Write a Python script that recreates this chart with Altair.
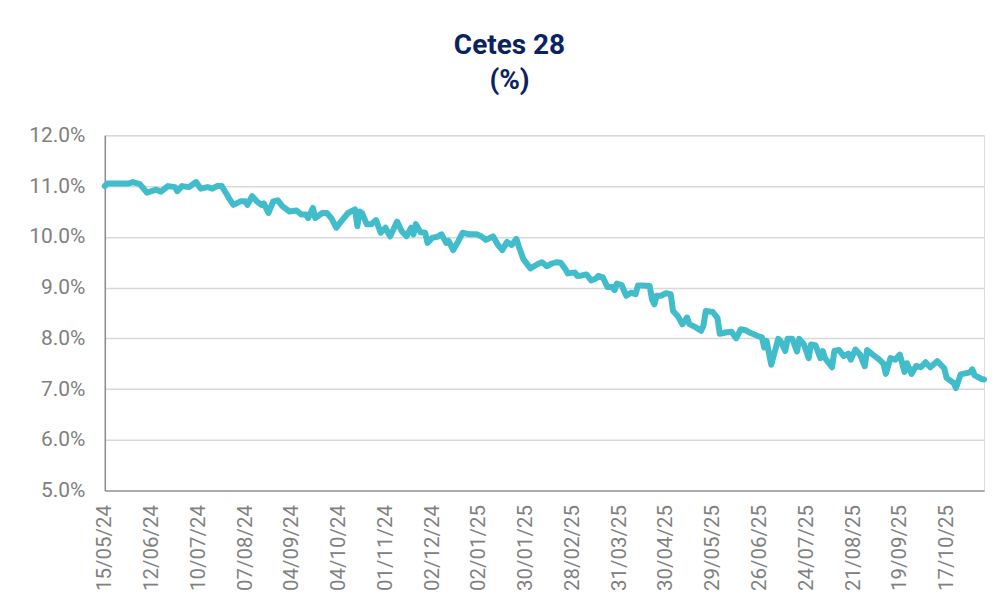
import json
import altair as alt
import pandas as pd

# --- data ---
IDX = [0, 1, 6, 10, 12, 15, 18, 22, 24, 27, 30, 31, 33, 36, 39, 41, 44, 46, 48, 50,
       52, 53, 55, 58, 60, 61, 63, 65, 67, 68, 70, 72, 74, 76, 79, 82, 84, 86, 87, 89,
       90, 93, 95, 97, 99, 101, 104, 107, 108, 109, 110, 112, 114, 116, 118, 120, 122, 125, 127, 129,
       131, 132, 133, 135, 137, 138, 140, 142, 144, 146, 147, 149, 151, 153, 156, 159, 161, 163, 166, 168,
       170, 172, 174, 176, 177, 179, 182, 185, 187, 189, 191, 193, 195, 197, 198, 201, 202, 204, 206, 208,
       210, 211, 213, 215, 217, 218, 219, 221, 223, 225, 227, 228, 230, 233, 234, 235, 236, 238, 240, 242,
       243, 245, 247, 249, 250, 253, 255, 256, 257, 260, 262, 263, 266, 268, 270, 272, 274, 276, 279, 281,
       282, 283, 285, 287, 288, 289, 291, 292, 294, 296, 297, 299, 301, 302, 304, 306, 307, 308, 311, 312,
       314, 316, 318, 319, 321, 323, 325, 326, 329, 331, 333, 334, 336, 338, 340, 342, 343, 345, 347, 349,
       351, 353, 356, 359, 360, 363, 364, 366, 368, 370, 371, 372, 375, 376]
VALUES = [11.00, 11.05, 11.05, 11.05, 11.08, 11.04, 10.87, 10.93, 10.89, 11.00, 10.98, 10.90, 11.00, 10.98, 11.08, 10.95, 10.98, 10.95, 11.00, 11.00,
          10.85, 10.77, 10.63, 10.70, 10.70, 10.63, 10.80, 10.70, 10.63, 10.66, 10.47, 10.70, 10.72, 10.60, 10.50, 10.52, 10.44, 10.44, 10.37, 10.57,
          10.37, 10.47, 10.47, 10.36, 10.18, 10.30, 10.47, 10.54, 10.21, 10.50, 10.47, 10.25, 10.25, 10.33, 10.08, 10.18, 10.01, 10.30, 10.11, 10.01,
          10.18, 10.05, 10.25, 10.09, 10.08, 9.88, 9.98, 10.00, 10.05, 9.88, 9.92, 9.74, 9.90, 10.08, 10.05, 10.05, 10.01, 9.94, 10.01, 9.85,
          9.74, 9.90, 9.84, 9.96, 9.82, 9.56, 9.38, 9.46, 9.50, 9.42, 9.47, 9.50, 9.49, 9.36, 9.28, 9.30, 9.23, 9.24, 9.26, 9.14,
          9.18, 9.23, 9.20, 9.01, 9.01, 8.95, 9.08, 9.05, 8.84, 8.90, 8.87, 9.04, 9.04, 9.03, 8.77, 8.67, 8.84, 8.84, 8.89, 8.87,
          8.54, 8.44, 8.28, 8.41, 8.28, 8.21, 8.15, 8.25, 8.54, 8.52, 8.40, 8.09, 8.12, 8.13, 8.00, 8.18, 8.16, 8.11, 8.05, 8.02,
          7.82, 7.95, 7.48, 7.82, 7.99, 7.95, 7.75, 7.99, 7.99, 7.74, 7.99, 7.88, 7.61, 7.88, 7.86, 7.61, 7.75, 7.61, 7.43, 7.75,
          7.77, 7.65, 7.70, 7.58, 7.78, 7.68, 7.45, 7.77, 7.66, 7.59, 7.50, 7.30, 7.61, 7.58, 7.68, 7.34, 7.51, 7.30, 7.46, 7.43,
          7.53, 7.43, 7.55, 7.41, 7.22, 7.12, 7.02, 7.29, 7.31, 7.33, 7.39, 7.27, 7.20, 7.19]
TICK_POS = [0, 20, 40, 60, 80, 100, 120, 140, 160, 180, 200, 220, 240, 260, 280, 300, 320, 340, 360]
TICK_LABELS = ["15/05/24", "12/06/24", "10/07/24", "07/08/24", "04/09/24", "04/10/24",
               "01/11/24", "02/12/24", "02/01/25", "30/01/25", "28/02/25", "31/03/25",
               "30/04/25", "29/05/25", "26/06/25", "24/07/25", "21/08/25", "19/09/25",
               "17/10/25"]
Y_TICKS = [5, 6, 7, 8, 9, 10, 11, 12]
TITLE = ["Cetes 28", "(%)"]

df = pd.DataFrame({"i": IDX, "v": VALUES})

label_map = "{" + ",".join(f"'{p}': {json.dumps(l)}" for p, l in zip(TICK_POS, TICK_LABELS)) + "}"
x_label_expr = f"{label_map}[''+datum.value]"

FONT = "Roboto"
GREY = "#808080"

chart = (
    alt.Chart(df)
    .mark_line(color="#41BCCA", strokeWidth=6, strokeJoin="round", strokeCap="round")
    .encode(
        x=alt.X(
            "i:Q",
            scale=alt.Scale(domain=[0, 376], nice=False, zero=False),
            axis=alt.Axis(
                title=None,
                values=TICK_POS,
                labelExpr=x_label_expr,
                labelAngle=-90,
                labelFont=FONT,
                labelFontSize=20.5,
                labelColor=GREY,
                labelPadding=14,
                ticks=False,
                grid=False,
                domainColor="#9a9a9a",
                domainWidth=1.5,
                labelOverlap=False,
            ),
        ),
        y=alt.Y(
            "v:Q",
            scale=alt.Scale(domain=[5, 12], nice=False, zero=False),
            axis=alt.Axis(
                title=None,
                values=Y_TICKS,
                labelExpr="format(datum.value, '.1f') + '%'",
                labelFont=FONT,
                labelFontSize=21,
                labelColor=GREY,
                labelPadding=20,
                ticks=False,
                grid=True,
                gridColor="#d9d9d9",
                gridWidth=1.5,
                domainColor="#8c8c8c",
                domainWidth=1.5,
            ),
        ),
    )
    .properties(
        width=881,
        height=356,
        title=alt.TitleParams(
            text=TITLE,
            font=FONT,
            fontSize=28,
            fontWeight="bold",
            color="#0B2260",
            anchor="middle",
            dx=-35,
            offset=29,
            lineHeight=36,
        ),
        autosize=alt.AutoSizeParams(type="none"),
        padding={"left": 97, "top": 127, "right": 12, "bottom": 111},
    )
    .configure_view(stroke="transparent")
    .configure(background="white")
)

chart.save("out.html", embed_options={"renderer": "svg", "actions": False})
